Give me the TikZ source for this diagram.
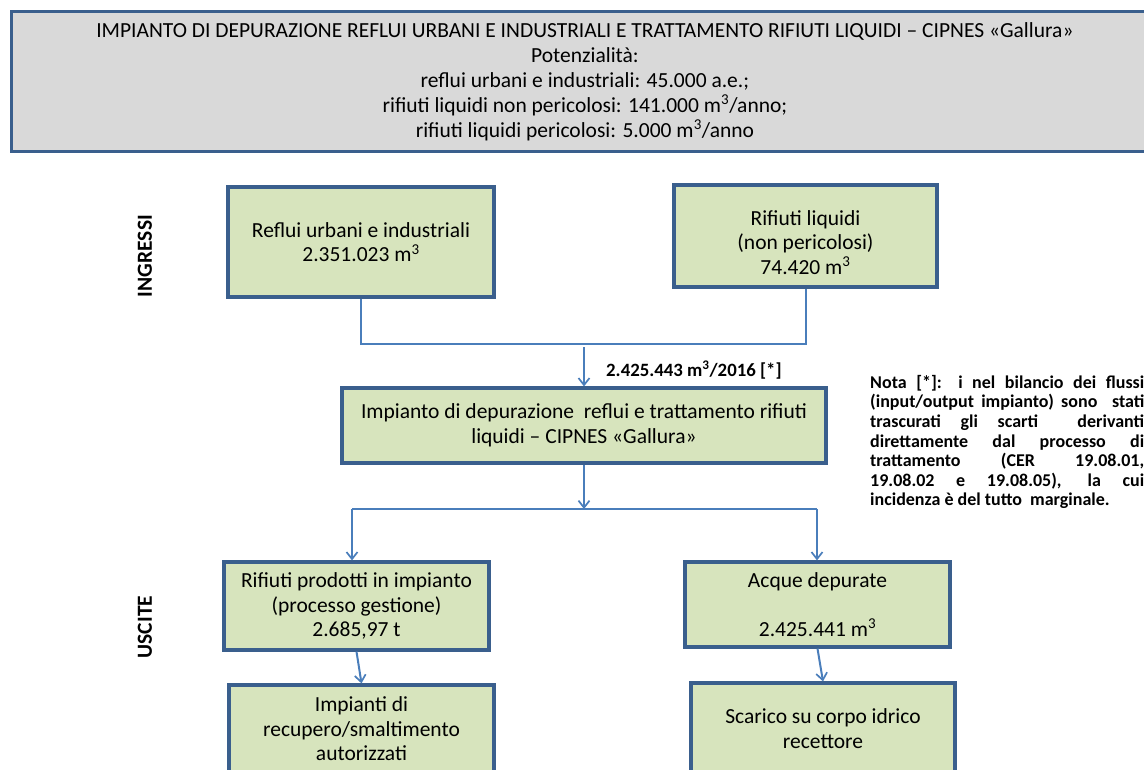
\documentclass[tikz,border=0pt]{standalone}
\usepackage{fontspec}
\setmainfont{Carlito}
\usetikzlibrary{arrows.meta}
\definecolor{boxfill}{HTML}{D7E4BD}
\definecolor{boxline}{HTML}{3A5F8D}
\definecolor{conn}{HTML}{4A7EBB}
\definecolor{banfill}{HTML}{D9D9D9}
\tikzset{
  flowbox/.style={draw=boxline, line width=3.2pt, fill=boxfill, align=center, inner sep=0pt,
    font=\fontsize{21.5}{24.5}\selectfont, text=black},
  conline/.style={draw=conn, line width=2pt},
  conarrow/.style={conline, -{Straight Barb[length=7pt,width=11pt,line width=1.7pt]}},
  sidelabel/.style={rotate=90, font=\fontsize{21.5}{22}\selectfont\bfseries},
}
\begin{document}
\begin{tikzpicture}[x=1pt,y=-1pt]
\useasboundingbox (0,0) rectangle (1144,769);
% banner
\node[draw=boxline, line width=2.8pt, fill=banfill, minimum width=1147pt, minimum height=140pt,
  inner sep=0pt, align=center, font=\fontsize{21.5}{25}\selectfont, anchor=north west] (banner) at (10,10)
  {IMPIANTO DI DEPURAZIONE REFLUI URBANI E INDUSTRIALI E TRATTAMENTO RIFIUTI LIQUIDI – CIPNES «Gallura»\\
   Potenzialità:\\
   reflui urbani e industriali: 45.000 a.e.;\\
   rifiuti liquidi non pericolosi: 141.000 m\textsuperscript{3}/anno;\\
   rifiuti liquidi pericolosi: 5.000 m\textsuperscript{3}/anno};
% side labels
\node[sidelabel] (ingressi) at (145,256) {INGRESSI};
\node[sidelabel] (uscite) at (145,627) {USCITE};
% boxes
\node[flowbox, minimum width=266pt, minimum height=110pt] (b1) at (361,242)
  {Reflui urbani e industriali\\2.351.023 m\textsuperscript{3}};
\node[flowbox, minimum width=263pt, minimum height=102pt] (b2) at (805.5,236)
  {\rule{0pt}{28pt}Rifiuti liquidi\\(non pericolosi)\\74.420 m\textsuperscript{3}};
\node[flowbox, minimum width=484pt, minimum height=75pt] (b3) at (584,425.5)
  {Impianto di depurazione\ \ reflui e trattamento rifiuti\\liquidi – CIPNES «Gallura»};
\node[flowbox, minimum width=265pt, minimum height=88pt] (b4) at (356.5,606)
  {Rifiuti prodotti in impianto\\(processo gestione)\\2.685,97 t};
\node[flowbox, minimum width=265pt, minimum height=85pt] (b5) at (817.5,604.5)
  {Acque depurate\\[24.5pt]2.425.441 m\textsuperscript{3}};
\node[flowbox, minimum width=265pt, minimum height=88pt] (b6) at (361.5,729)
  {Impianti di\\recupero/smaltimento\\autorizzati};
\node[flowbox, minimum width=264pt, minimum height=91pt] (b7) at (823,728.5)
  {Scarico su corpo idrico\\recettore};
% connectors
\coordinate (m1) at (361,344);
\coordinate (j1) at (584,347);
\draw[conline] (b1.south) |- (m1) -| (b2.south);
\draw[conarrow] (j1) -- (b3.north);
\coordinate (j2) at (584,509);
\coordinate (l4) at (352,509);
\coordinate (r5) at (817,509);
\draw[conarrow] (b3.south) -- (j2);
\draw[conline] (l4) -- (r5);
\draw[conarrow] (l4) -- (l4 |- b4.north);
\draw[conarrow] (r5) -- (r5 |- b5.north);
\draw[conarrow] (b4.south) -- (b6.north);
\draw[conarrow] (b5.south) -- (b7.north);
% labels
\node[anchor=west, font=\fontsize{18.8}{20}\selectfont\bfseries, inner sep=0pt] (flow) at (606,370)
  {2.425.443 m\textsuperscript{3}/2016 [*]};
\node[anchor=north west, inner sep=0pt, font=\fontsize{18}{19.6}\selectfont\bfseries] (nota) at (870,375)
  {\parbox[t]{274pt}{Nota [*]: i nel bilancio dei flussi\linebreak
  (input/output impianto) sono\ \ stati\linebreak
  trascurati gli scarti\ \ derivanti\linebreak
  direttamente dal processo di\linebreak
  trattamento (CER 19.08.01,\linebreak
  19.08.02 e 19.08.05), la cui\linebreak
  incidenza è del tutto\ \ marginale.}};
\end{tikzpicture}
\end{document}
